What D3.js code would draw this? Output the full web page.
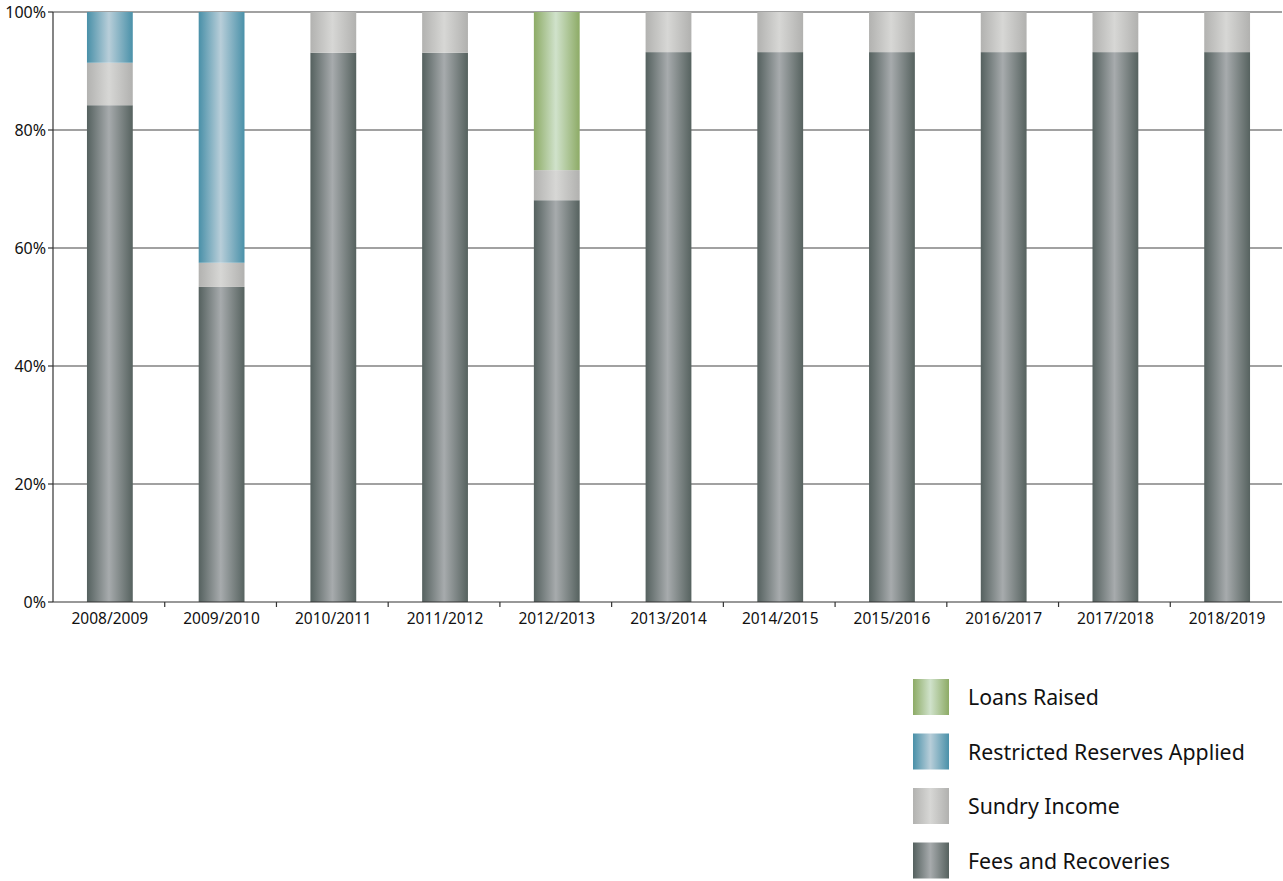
<!DOCTYPE html>
<html><head><meta charset="utf-8">
<script src="https://cdn.jsdelivr.net/npm/d3@7"></script>
<style>body{margin:0;background:#fff;} svg{display:block;font-family:"Noto Sans","Open Sans",sans-serif;}</style>
</head><body><svg id="c" width="1283" height="881"></svg>
<script>
const categories = ["2008/2009","2009/2010","2010/2011","2011/2012","2012/2013","2013/2014","2014/2015","2015/2016","2016/2017","2017/2018","2018/2019"];
const fees = [84.2, 53.4, 93.1, 93.1, 68.1, 93.2, 93.2, 93.2, 93.2, 93.2, 93.2];
const sundry = [7.2, 4.1, 6.9, 6.9, 5.1, 6.8, 6.8, 6.8, 6.8, 6.8, 6.8];
const reserves = [8.6, 42.5, 0, 0, 0, 0, 0, 0, 0, 0, 0];
const loans = [0, 0, 0, 0, 26.8, 0, 0, 0, 0, 0, 0];
const seriesNames = ["Fees and Recoveries","Sundry Income","Restricted Reserves Applied","Loans Raised"];
const yTicks = [0,20,40,60,80,100];

const grads = {
  "Fees and Recoveries": ["#55615f","#a7abad","#56625f"],
  "Sundry Income": ["#b2b2b0","#d7d7d5","#b1b1af"],
  "Restricted Reserves Applied": ["#4990a8","#b8ced9","#4a91a9"],
  "Loans Raised": ["#8dab66","#d0e2cb","#8dab66"]
};

const svg = d3.select("#c");
const defs = svg.append("defs");
Object.entries(grads).forEach(([k,c],i)=>{
  const g = defs.append("linearGradient").attr("id","g"+i).attr("x1","0").attr("x2","1").attr("y1","0").attr("y2","0");
  g.append("stop").attr("offset","0%").attr("stop-color",c[0]);
  g.append("stop").attr("offset","48%").attr("stop-color",c[1]);
  g.append("stop").attr("offset","100%").attr("stop-color",c[2]);
});
const gid = n => "url(#g"+Object.keys(grads).indexOf(n)+")";

const L=53, R=1282, T=12, B=602;
const x = d3.scaleBand().domain(categories).range([L,R]).paddingInner(0.59).paddingOuter(0.295);
const y = d3.scaleLinear().domain([0,100]).range([B,T]);

// gridlines
svg.append("g").selectAll("line").data(yTicks.filter(t=>t>0)).join("line")
  .attr("x1",L).attr("x2",R).attr("y1",d=>y(d)).attr("y2",d=>y(d))
  .attr("stroke","#444").attr("stroke-width",1.2);

const data = categories.map((c,i)=>({cat:c,"Fees and Recoveries":fees[i],"Sundry Income":sundry[i],"Restricted Reserves Applied":reserves[i],"Loans Raised":loans[i]}));
const stack = d3.stack().keys(seriesNames)(data);
svg.append("g").attr("transform","translate(1,0)").selectAll("g").data(stack).join("g")
  .attr("fill",d=>gid(d.key))
  .selectAll("rect").data(d=>d).join("rect")
  .attr("x",d=>x(d.data.cat)).attr("width",x.bandwidth())
  .attr("y",d=>y(d[1])).attr("height",d=>y(d[0])-y(d[1]));

// axes
const xb = d3.scaleLinear().domain([0,categories.length]).range([L,R]);
const ax = svg.append("g");
ax.append("line").attr("x1",L).attr("x2",R).attr("y1",B).attr("y2",B).attr("stroke","#333").attr("stroke-width",1.2);
ax.append("line").attr("x1",L).attr("x2",L).attr("y1",T).attr("y2",B).attr("stroke","#333").attr("stroke-width",1.2);
ax.selectAll(".xt").data(d3.range(1,categories.length)).join("line")
  .attr("x1",d=>xb(d)).attr("x2",d=>xb(d)).attr("y1",B).attr("y2",B+5).attr("stroke","#333").attr("stroke-width",1.2);
ax.selectAll(".yt").data(yTicks).join("line")
  .attr("x1",L-5).attr("x2",L).attr("y1",d=>y(d)).attr("y2",d=>y(d)).attr("stroke","#333").attr("stroke-width",1.2);
ax.selectAll(".yl").data(yTicks).join("text")
  .attr("x",L-7).attr("y",d=>y(d)+5.5).attr("text-anchor","end")
  .attr("font-size",16).attr("fill","#111").text(d=>d+"%");
ax.selectAll(".xl").data(categories).join("text")
  .attr("x",d=>x(d)+x.bandwidth()/2+1).attr("y",B+22).attr("text-anchor","middle")
  .attr("font-size",15.5).attr("fill","#111").text(d=>d);

// legend
const legendOrder = ["Loans Raised","Restricted Reserves Applied","Sundry Income","Fees and Recoveries"];
const lg = svg.append("g").selectAll("g").data(legendOrder).join("g")
  .attr("transform",(d,i)=>`translate(913,${679+i*54.5})`);
lg.append("rect").attr("width",36).attr("height",36).attr("fill",d=>gid(d));
lg.append("text").attr("x",55).attr("y",26).attr("font-size",21.3).attr("fill","#111").text(d=>d);
</script></body></html>
